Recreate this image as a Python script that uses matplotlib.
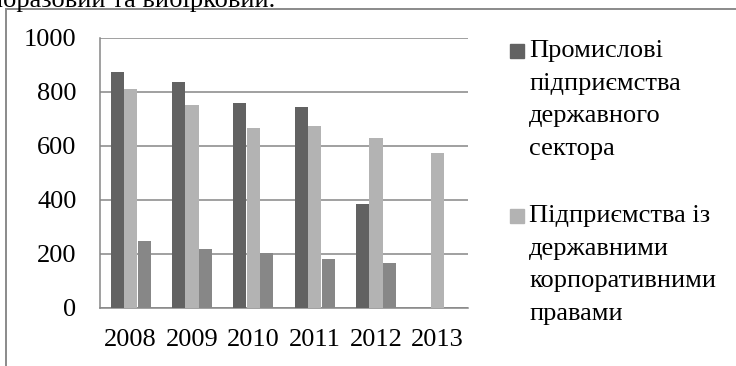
import matplotlib
matplotlib.use('Agg')
import matplotlib.pyplot as plt
from matplotlib.patches import Rectangle
import numpy as np

years = ['2008', '2009', '2010', '2011', '2012', '2013']
industrial = [874, 837, 758, 746, 384, np.nan]
corporate_rights = [812, 752, 665, 673, 630, 573]
third_series = [249, 218, 202, 180, 168, np.nan]

legend_labels = ['Промислові\nпідприємства\nдержавного\nсектора',
                 'Підприємства із\nдержавними\nкорпоративними\nправами']

colors = ['#626262', '#b3b3b3', '#878787']

W, H = 736, 366
fig = plt.figure(figsize=(W / 100, H / 100), dpi=100)
plt.rcParams['font.family'] = ['Liberation Serif', 'DejaVu Serif']

ax = fig.add_axes([100 / W, (H - 308) / H, 368 / W, 270 / H])

x = np.arange(len(years))
width = 0.22
for i, (vals, color) in enumerate(zip([industrial, corporate_rights, third_series], colors)):
    ax.bar(x + (i - 1) * width, vals, width * 0.97, color=color, zorder=3)

ax.set_xlim(-0.5, len(years) - 0.5)
ax.set_ylim(0, 1000)
ax.set_yticks(range(0, 1001, 200))
ax.set_xticks(x)
ax.set_xticklabels(years)
ax.tick_params(axis='both', length=0, labelsize=19, colors='black')
ax.tick_params(axis='y', pad=17)
ax.tick_params(axis='x', pad=15)
ax.yaxis.grid(True, color='#868686', linewidth=1.1, zorder=0)
for side in ['top', 'right']:
    ax.spines[side].set_visible(False)
for side in ['left', 'bottom']:
    ax.spines[side].set_color('#868686')
    ax.spines[side].set_linewidth(1.1)

# hand-made legend (only the first two series are named)
legend_tops = [40, 205]
square_tops = [44, 209]
for label, color, top, sq in zip(legend_labels, colors, legend_tops, square_tops):
    fig.patches.append(Rectangle((510 / W, 1 - (sq + 14) / H), 14 / W, 14 / H,
                                 transform=fig.transFigure, color=color))
    fig.text(529 / W, 1 - top / H, label, fontsize=19, va='top', ha='left',
             linespacing=1.62)

# outer frame of the embedded chart
fig.patches.append(Rectangle((6 / W, -0.1), 1.2, 1 - 9 / H + 0.1,
                             transform=fig.transFigure, fill=False,
                             edgecolor='#8a8a8a', linewidth=1.4))

# clipped line of the surrounding document text
fig.text(275 / W, 1 - 6.5 / H, 'одноразовий та вибірковий.', fontsize=19,
         ha='right', va='baseline')

fig.savefig('out.png', dpi=100)
